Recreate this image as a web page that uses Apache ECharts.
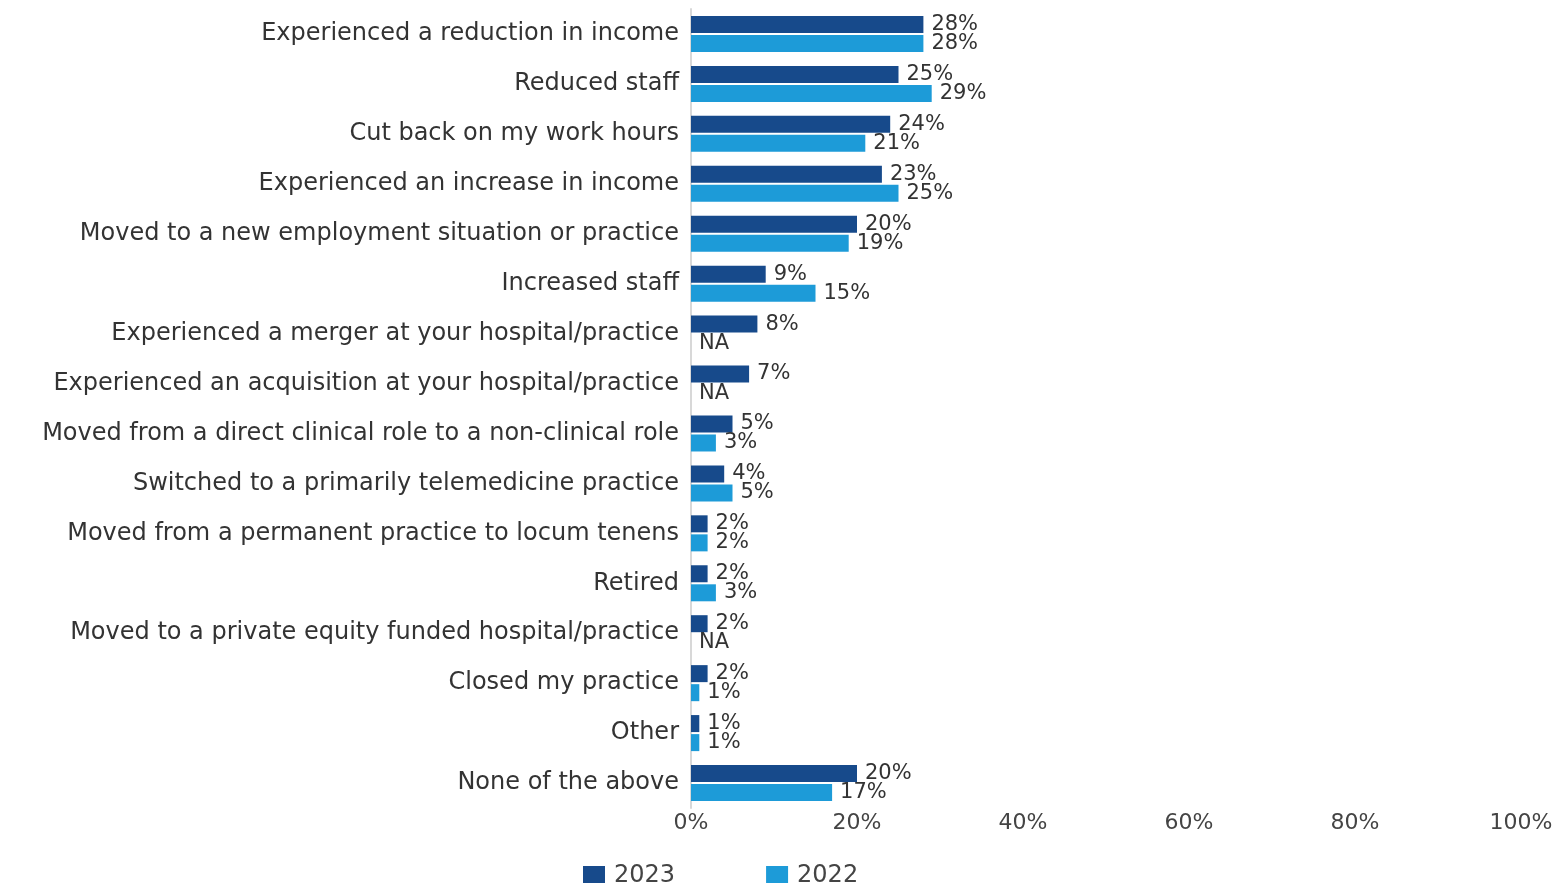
<!DOCTYPE html>
<html>
<head>
<meta charset="utf-8">
<script src="https://cdn.jsdelivr.net/npm/echarts@6/dist/echarts.min.js"></script>
<style>
html,body{margin:0;padding:0;background:#fff;}
#chart{width:1564px;height:883px;}
</style>
</head>
<body>
<div id="chart"></div>
<script>
const categories = [
  "Experienced a reduction in income",
  "Reduced staff",
  "Cut back on my work hours",
  "Experienced an increase in income",
  "Moved to a new employment situation or practice",
  "Increased staff",
  "Experienced a merger at your hospital/practice",
  "Experienced an acquisition at your hospital/practice",
  "Moved from a direct clinical role to a non-clinical role",
  "Switched to a primarily telemedicine practice",
  "Moved from a permanent practice to locum tenens",
  "Retired",
  "Moved to a private equity funded hospital/practice",
  "Closed my practice",
  "Other",
  "None of the above"
];
const values2023 = [28,25,24,23,20,9,8,7,5,4,2,2,2,2,1,20];
const values2022 = [28,29,21,25,19,15,null,null,3,5,2,3,null,1,1,17];
const xTicks = [0,20,40,60,80,100];

const FONT = "DejaVu Sans";
const chart = echarts.init(document.getElementById('chart'));
const toData = arr => arr.map(v => v === null
  ? {value: 0, label: {formatter: 'NA'}}
  : {value: v});

chart.setOption({
  animation: false,
  textStyle: {fontFamily: FONT},
  grid: {left: 691, right: 43, top: 9, bottom: 75, containLabel: false},
  legend: {
    data: ['2023','2022'],
    left: 578, top: 859,
    itemWidth: 22, itemHeight: 20, itemGap: 91,
    icon: 'rect',
    textStyle: {fontSize: 24, color: '#444', fontFamily: FONT, padding: [0,0,0,4]}
  },
  xAxis: {
    type: 'value', min: 0, max: 100, interval: 20,
    axisLine: {show: false}, axisTick: {show: false},
    splitLine: {show: false},
    axisLabel: {formatter: '{value}%', fontSize: 22, color: '#444', margin: 4, fontFamily: FONT}
  },
  yAxis: {
    type: 'category', data: categories, inverse: true,
    axisLine: {show: true, lineStyle: {color: '#d8d8d8', width: 2}},
    axisTick: {show: false},
    axisLabel: {fontSize: 24, color: '#333', margin: 12, fontFamily: FONT, padding: [4,0,0,0]}
  },
  series: [
    {
      name: '2023', type: 'bar', data: toData(values2023),
      barWidth: 17, barGap: '12%',
      itemStyle: {color: '#174a8b'},
      label: {show: true, position: 'right', distance: 8, formatter: '{c}%', fontSize: 21, color: '#333', fontFamily: FONT, padding: [2,0,0,0]}
    },
    {
      name: '2022', type: 'bar', data: toData(values2022),
      barWidth: 17,
      itemStyle: {color: '#1d9bd8'},
      label: {show: true, position: 'right', distance: 8, formatter: '{c}%', fontSize: 21, color: '#333', fontFamily: FONT, padding: [3,0,0,0]}
    }
  ]
});
</script>
</body>
</html>
